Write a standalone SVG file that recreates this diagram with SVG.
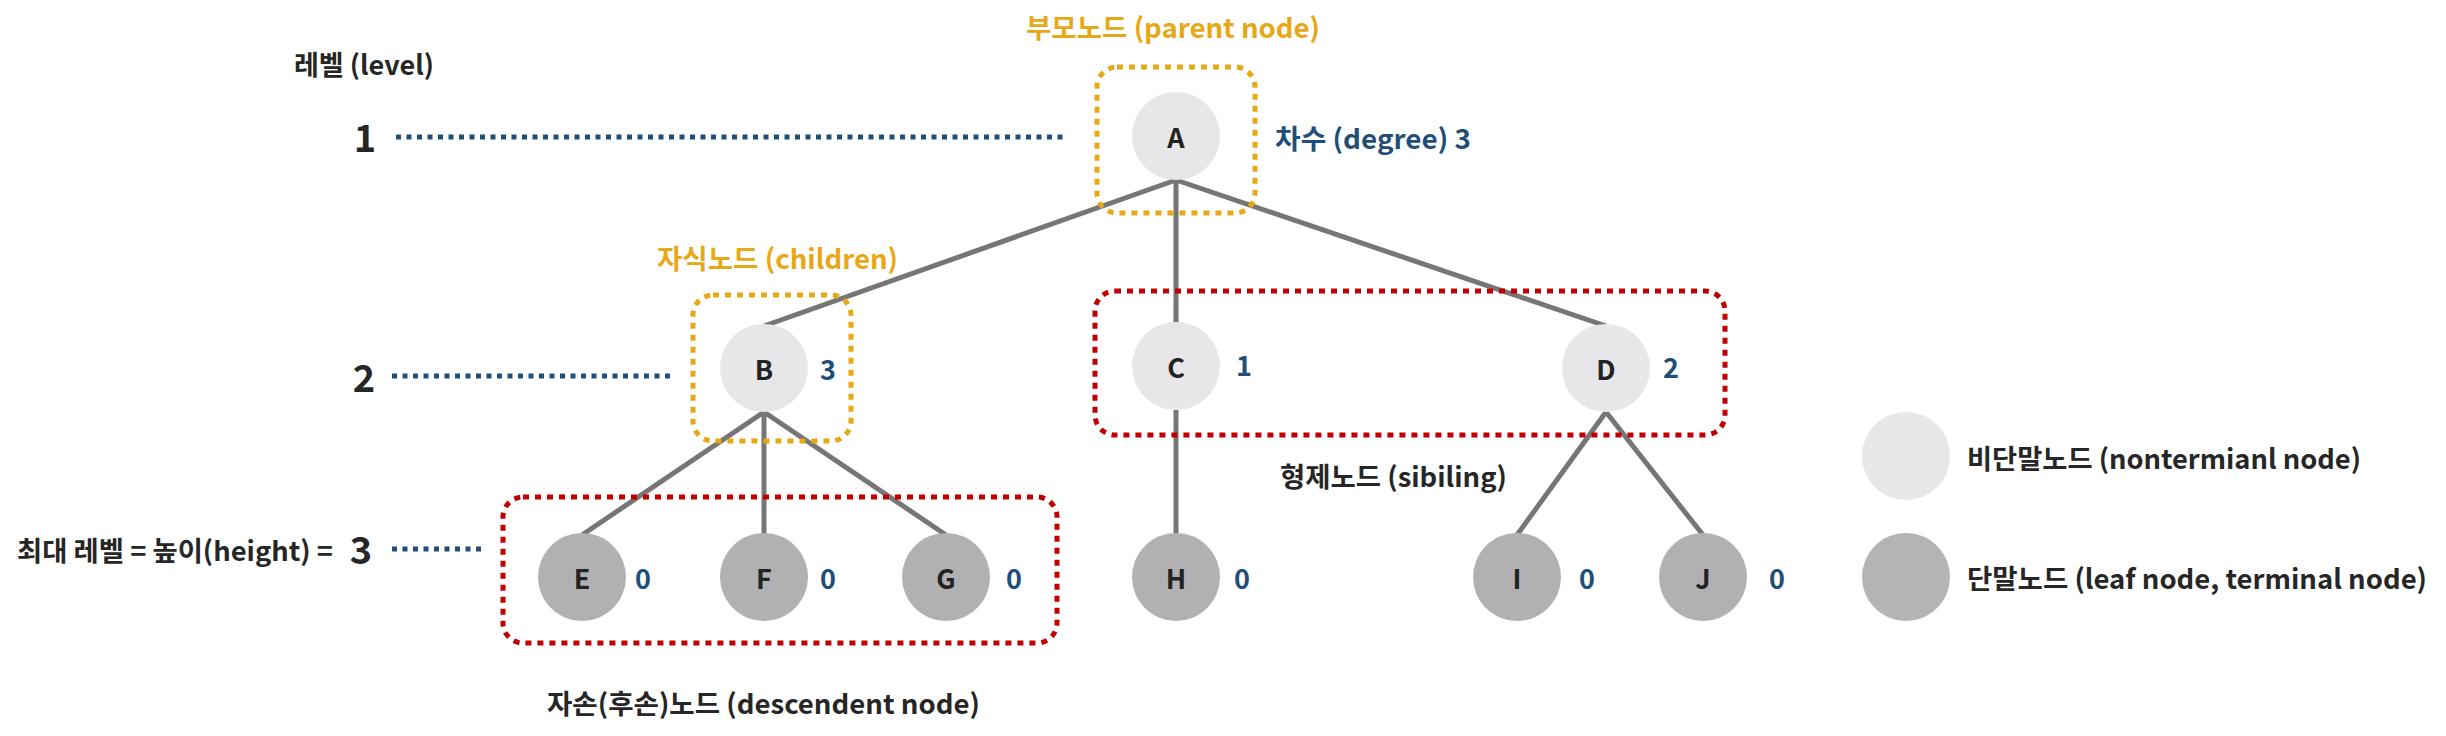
<svg xmlns="http://www.w3.org/2000/svg" width="2446" height="736" viewBox="0 0 2446 736">
<style>
text{font-family:"Noto Sans CJK KR","Noto Sans",sans-serif;font-weight:bold;dominant-baseline:central}
.t{fill:#262626;font-size:27px}
.lv{fill:#262626;font-size:38px;text-anchor:middle}
.nl{fill:#222;font-size:27px;text-anchor:middle}
.dg{fill:#1f4e79;font-size:27px;text-anchor:middle}
.or{fill:#e6a817;font-size:27px}
.bl{fill:#1f4e79;font-size:27px}
.nt{fill:#e7e6e8}
.lf{fill:#b1b0b3}
.edge{stroke:#767676;stroke-width:5;fill:none}
.lvl{stroke:#1f4e79;stroke-width:5;stroke-dasharray:5 5.5;fill:none}
.box-o{stroke:#e6a817;stroke-width:5;stroke-dasharray:6 6;fill:none}
.box-r{stroke:#c00000;stroke-width:5;stroke-dasharray:6 6;fill:none}
</style>
<rect width="2446" height="736" fill="#fff"/>
<g id="connectors">
<line class="edge" x1="1176" y1="180" x2="764" y2="326"/>
<line class="edge" x1="1176" y1="180" x2="1176" y2="324"/>
<line class="edge" x1="1176" y1="180" x2="1606" y2="326"/>
<line class="edge" x1="764" y1="412" x2="582" y2="535"/>
<line class="edge" x1="764" y1="412" x2="764" y2="535"/>
<line class="edge" x1="764" y1="412" x2="946" y2="535"/>
<line class="edge" x1="1176" y1="410" x2="1176" y2="535"/>
<line class="edge" x1="1606" y1="412" x2="1517" y2="535"/>
<line class="edge" x1="1606" y1="412" x2="1703" y2="535"/>
</g>
<g id="levels">
<text class="t" x="294" y="63" textLength="140" lengthAdjust="spacingAndGlyphs">레벨 (level)</text>
<text class="lv" x="365" y="135">1</text>
<line class="lvl" x1="396" y1="137" x2="1063" y2="137"/>
<text class="lv" x="364" y="375">2</text>
<line class="lvl" x1="392" y1="376" x2="673" y2="376"/>
<text class="t" x="17" y="549" textLength="316" lengthAdjust="spacingAndGlyphs">최대 레벨 = 높이(height) =</text>
<text class="lv" x="361" y="547">3</text>
<line class="lvl" x1="392" y1="549" x2="481" y2="549"/>
</g>
<g id="annotations">
<rect class="box-o" x="1097" y="67" width="158" height="146" rx="20"/>
<text class="or" x="1026" y="26" textLength="294" lengthAdjust="spacingAndGlyphs">부모노드 (parent node)</text>
<rect class="box-o" x="693" y="295" width="158" height="146" rx="20"/>
<text class="or" x="657" y="257" textLength="241" lengthAdjust="spacingAndGlyphs">자식노드 (children)</text>
<rect class="box-r" x="1095" y="291" width="630" height="144" rx="20"/>
<text class="t" x="1280" y="475" textLength="227" lengthAdjust="spacingAndGlyphs">형제노드 (sibiling)</text>
<rect class="box-r" x="503" y="497" width="554" height="146" rx="20"/>
<text class="t" x="547" y="702" textLength="433" lengthAdjust="spacingAndGlyphs">자손(후손)노드 (descendent node)</text>
<text class="bl" x="1275" y="137" textLength="196" lengthAdjust="spacingAndGlyphs">차수 (degree) 3</text>
</g>
<g id="node-A"><circle class="nt" cx="1176" cy="136" r="44"/><text class="nl" x="1176" y="136">A</text></g>
<g id="node-B"><circle class="nt" cx="764" cy="368" r="44"/><text class="nl" x="764" y="368">B</text><text class="dg" x="828" y="368">3</text></g>
<g id="node-C"><circle class="nt" cx="1176" cy="366" r="44"/><text class="nl" x="1176" y="366">C</text><text class="dg" x="1244" y="364">1</text></g>
<g id="node-D"><circle class="nt" cx="1606" cy="368" r="44"/><text class="nl" x="1606" y="368">D</text><text class="dg" x="1671" y="366">2</text></g>
<g id="node-E"><circle class="lf" cx="582" cy="577" r="44"/><text class="nl" x="582" y="577">E</text><text class="dg" x="643" y="577">0</text></g>
<g id="node-F"><circle class="lf" cx="764" cy="577" r="44"/><text class="nl" x="764" y="577">F</text><text class="dg" x="828" y="577">0</text></g>
<g id="node-G"><circle class="lf" cx="946" cy="577" r="44"/><text class="nl" x="946" y="577">G</text><text class="dg" x="1014" y="577">0</text></g>
<g id="node-H"><circle class="lf" cx="1176" cy="577" r="44"/><text class="nl" x="1176" y="577">H</text><text class="dg" x="1242" y="577">0</text></g>
<g id="node-I"><circle class="lf" cx="1517" cy="577" r="44"/><text class="nl" x="1517" y="577">I</text><text class="dg" x="1587" y="577">0</text></g>
<g id="node-J"><circle class="lf" cx="1703" cy="577" r="44"/><text class="nl" x="1703" y="577">J</text><text class="dg" x="1777" y="577">0</text></g>
<g id="legend">
<circle cx="1906" cy="456" r="44" fill="#e7e6e8"/>
<text class="t" x="1967" y="457" textLength="394" lengthAdjust="spacingAndGlyphs">비단말노드 (nontermianl node)</text>
<circle cx="1906" cy="577" r="44" fill="#b4b4b4"/>
<text class="t" x="1967" y="577" textLength="460" lengthAdjust="spacingAndGlyphs">단말노드 (leaf node, terminal node)</text>
</g>
</svg>
